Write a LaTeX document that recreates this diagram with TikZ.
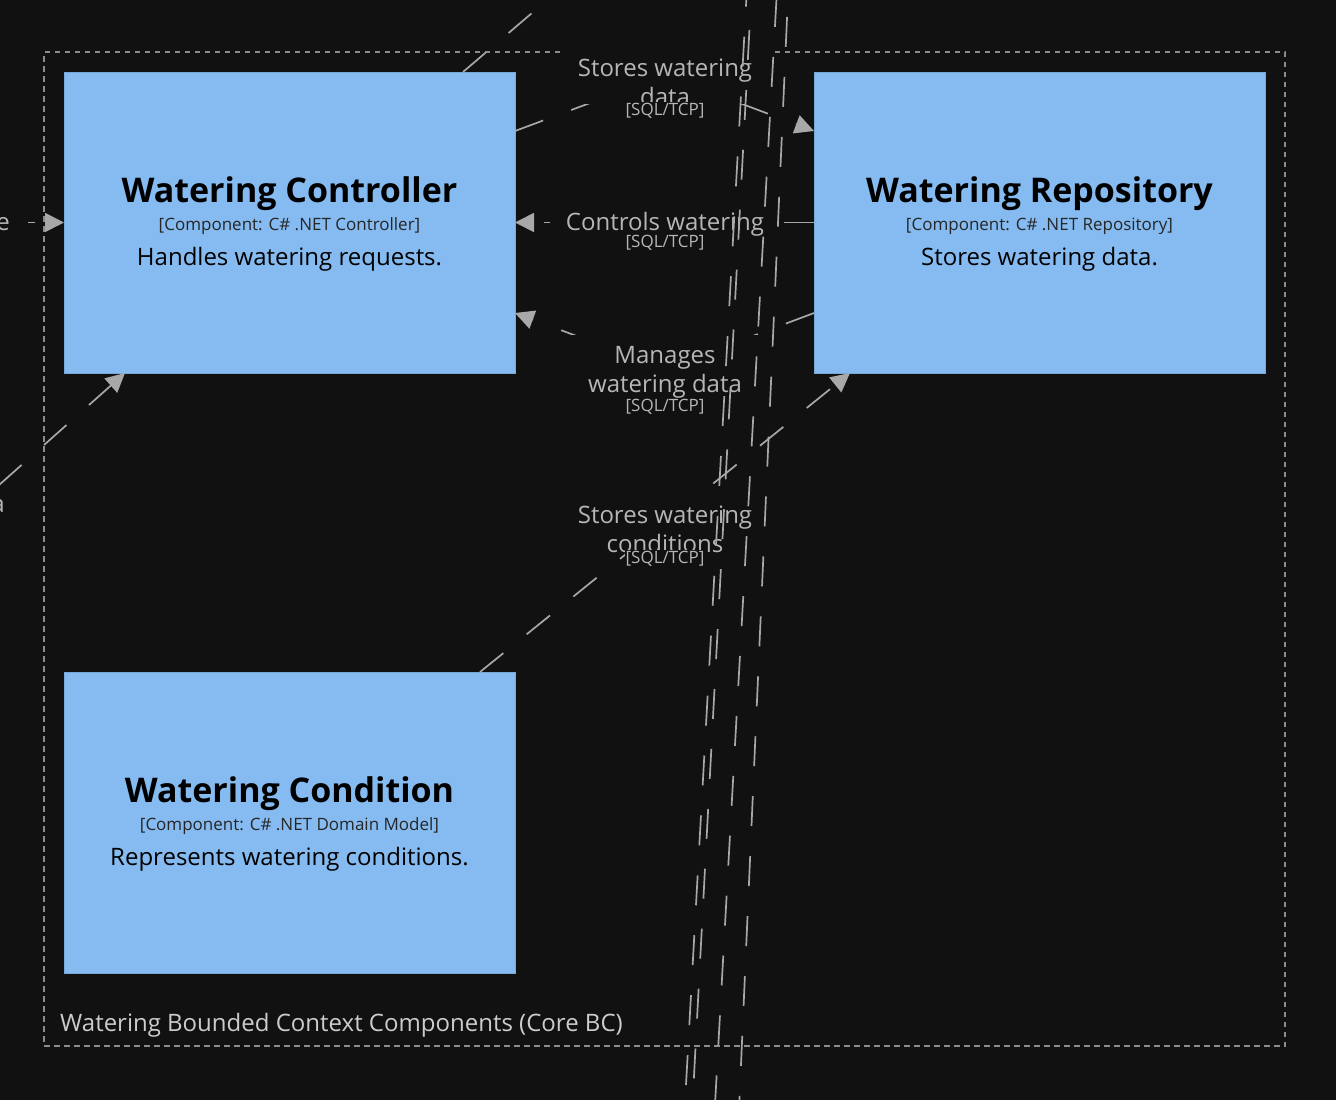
\documentclass[tikz,border=0pt]{standalone}
\usepackage{fontspec}
\setmainfont{Open Sans}
\usetikzlibrary{arrows.meta,calc}
\definecolor{bg}{HTML}{111111}
\definecolor{boxfill}{HTML}{85BBF0}
\definecolor{boxline}{HTML}{78A8D8}
\definecolor{edge}{HTML}{A8A8A8}
\definecolor{lbl}{HTML}{B6B6B6}
\definecolor{bnd}{HTML}{8C8C8C}
\definecolor{bndtext}{HTML}{CCCCCC}
\begin{document}
\begin{tikzpicture}[x=1pt,y=-1pt,
  comp/.style={draw=boxline,line width=1pt,fill=boxfill,minimum width=451pt,minimum height=301pt,inner sep=0pt,outer sep=0pt},
  ttl/.style={font=\fontsize{34}{40}\selectfont\bfseries,text=black,inner sep=0pt,anchor=base},
  sub/.style={font=\fontsize{17}{20}\selectfont,text=black!85,inner sep=0pt,anchor=base},
  dsc/.style={font=\fontsize{24}{28}\selectfont,text=black,inner sep=0pt,anchor=base},
  rel/.style={draw=edge,line width=1.7pt,dash pattern=on 30pt off 30pt},
  relarrow/.style={rel,-{Triangle[length=19pt,width=19pt]}},
  labbg/.style={fill=bg,draw=none,inner sep=0pt,outer sep=0pt},
  labtxt/.style={font=\fontsize{24}{28}\selectfont,text=lbl,inner sep=0pt,anchor=base},
  techtxt/.style={font=\fontsize{17}{20}\selectfont,text=lbl,fill=bg,inner sep=1pt,anchor=base},
  bndbox/.style={draw=bnd,line width=1.5pt,dash pattern=on 5.5pt off 4.5pt,minimum width=1241pt,minimum height=994pt,inner sep=0pt,outer sep=0pt},
  bndlabel/.style={font=\fontsize{24}{28}\selectfont,text=bndtext,inner sep=0pt,anchor=base west}
]
\useasboundingbox (0,0) rectangle (1336,1100);
\clip (0,0) rectangle (1336,1100);
\fill[bg] (0,0) rectangle (1336,1100);

% boundary
\node[bndbox] (bnd) at (664.5,549) {};
\node[bndlabel] (bndlbl) at (60,1031) {Watering Bounded Context Components (Core BC)};

% components
\node[comp] (ctrl) at (289.5,222.5) {};
\node[ttl] (ctrlT) at ($(ctrl.center)+(0,-20.5)$) {Watering Controller};
\node[sub] (ctrlS) at ($(ctrl.center)+(0,7.5)$) {[Component: C\# .NET Controller]};
\node[dsc] (ctrlD) at ($(ctrl.center)+(0,42.5)$) {Handles watering requests.};

\node[comp] (repo) at (1039.5,222.5) {};
\node[ttl] (repoT) at ($(repo.center)+(0,-20.5)$) {Watering Repository};
\node[sub] (repoS) at ($(repo.center)+(0,7.5)$) {[Component: C\# .NET Repository]};
\node[dsc] (repoD) at ($(repo.center)+(0,42.5)$) {Stores watering data.};

\node[comp] (cond) at (289.5,822.5) {};
\node[ttl] (condT) at ($(cond.center)+(0,-20.5)$) {Watering Condition};
\node[sub] (condS) at ($(cond.center)+(0,7.5)$) {[Component: C\# .NET Domain Model]};
\node[dsc] (condD) at ($(cond.center)+(0,42.5)$) {Represents watering conditions.};

% connectors
\coordinate (b1) at (665,75);
\coordinate (b2) at (665,369);
\coordinate (lin) at (-55,222.5);
\coordinate (lb) at (-45.6,524.7);
\coordinate (tp) at (577,-25.5);

\draw[relarrow] ([yshift=91.5pt]ctrl.east) -- (b1) -- ([yshift=91.5pt]repo.west);
\draw[relarrow] (repo.west) -- (ctrl.east);
\draw[relarrow] ([yshift=-90.5pt]repo.west) -- (b2) -- ([yshift=-90.5pt]ctrl.east);
\draw[relarrow] ([xshift=-35pt]cond.north east) -- ([xshift=36pt]repo.south west);
\draw[relarrow] (lin) -- (ctrl.west);
\draw[relarrow] (lb) -- ([xshift=61pt]ctrl.south west);
\draw[rel] ([xshift=-52pt]ctrl.north east) -- (tp);

% labels
\node[labbg,minimum width=213pt,minimum height=56pt] (l1bg) at (666.5,76) {};
\node[labtxt] (l1a) at (665,76) {Stores watering};
\node[labtxt] (l1b) at (665,105) {data};
\node[techtxt] (l1c) at (665,115) {[SQL/TCP]};

\node[labbg,minimum width=233pt,minimum height=28pt] (l2bg) at (666.5,222) {};
\node[labtxt] (l2a) at (665,230) {Controls watering};
\node[techtxt] (l2c) at (665,247) {[SQL/TCP]};

\node[labbg,minimum width=186pt,minimum height=57pt] (l3bg) at (665,363.5) {};
\node[labtxt] (l3a) at (665,363) {Manages};
\node[labtxt] (l3b) at (665,392) {watering data};
\node[techtxt] (l3c) at (665,411) {[SQL/TCP]};

\node[labbg,minimum width=210pt,minimum height=56pt] (l4bg) at (665,523) {};
\node[labtxt] (l4a) at (665,523) {Stores watering};
\node[labtxt] (l4b) at (665,552) {conditions};
\node[techtxt] (l4c) at (665,563) {[SQL/TCP]};

\node[labtxt,anchor=base east,fill=bg,inner xsep=0pt,inner ysep=3pt] (le) at (10,230) {e};
\fill[bg] (le.north east) rectangle ([xshift=18pt]le.south east);
\node[labtxt,anchor=base east,fill=bg,inner sep=2pt] (la) at (7,512) {a};

% long crossing lines
\coordinate (vA1) at (747.6,-23.3);
\coordinate (vA2) at (684.6,1110);
\coordinate (vB1) at (752.6,-30);
\coordinate (vB2) at (692.2,1110);
\coordinate (vC1) at (776.6,-3);
\coordinate (vC2) at (714.7,1110);
\coordinate (vD1) at (789.7,-43);
\coordinate (vD2) at (739,1110);
\draw[rel] (vA1) -- (vA2);
\draw[rel] (vB1) -- (vB2);
\draw[rel] (vC1) -- (vC2);
\draw[rel] (vD1) -- (vD2);
\end{tikzpicture}
\end{document}
